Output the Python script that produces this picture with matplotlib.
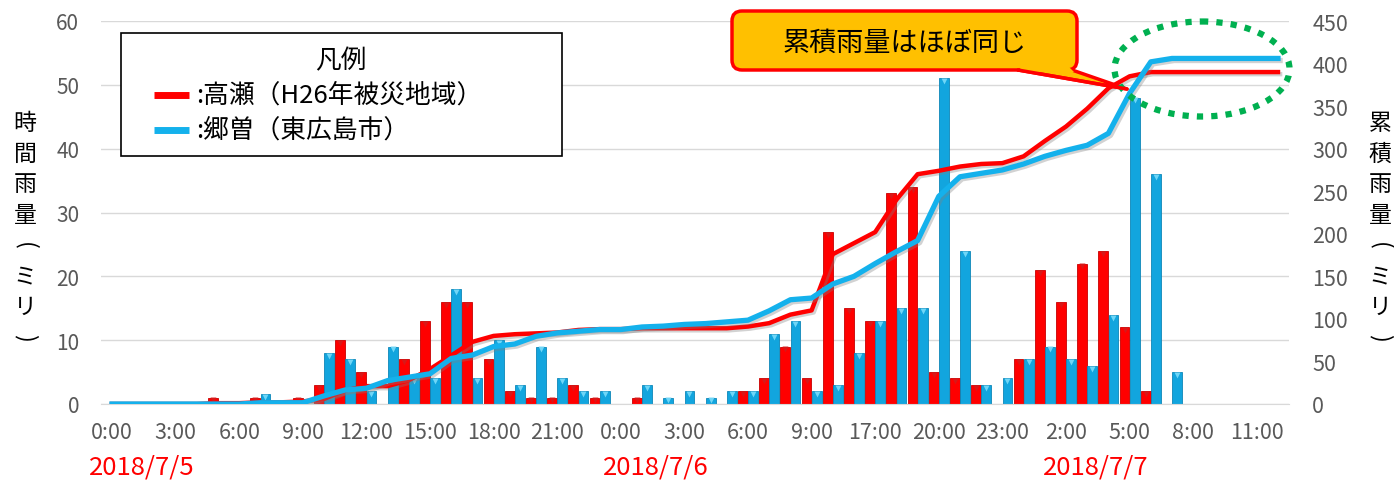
import matplotlib
matplotlib.use("Agg")
import matplotlib.pyplot as plt
import matplotlib.patheffects as pe
import matplotlib.transforms as mtransforms
from matplotlib.patches import FancyBboxPatch, Ellipse, Polygon, Rectangle
import numpy as np

plt.rcParams['font.family'] = ['Noto Sans CJK JP', 'DejaVu Sans']

# 目盛ラベル(3時間ごと)と日付
tick_labels = ["0:00", "3:00", "6:00", "9:00", "12:00", "15:00", "18:00", "21:00",
               "0:00", "3:00", "6:00", "9:00", "17:00", "20:00", "23:00",
               "2:00", "5:00", "8:00", "11:00"]
date_labels = ["2018/7/5", "2018/7/6", "2018/7/7"]

series_names = [":高瀬（H26年被災地域）", ":郷曽（東広島市）"]

# 時間雨量(ミリ) 高瀬
takase_hourly = [0, 0, 0, 0, 0, 1, 0, 1, 0, 1, 3, 10, 5, 0, 7, 13, 16, 16, 7, 2, 1, 1, 3, 1,
                 0, 1, 0, 0, 0, 0, 2, 4, 9, 4, 27, 15, 13, 33, 34, 5, 4, 3,
                 0, 7, 21, 16, 22, 24, 12, 2, 0, 0, 0, 0, 0, 0]
# 時間雨量(ミリ) 郷曽
goso_hourly = [0, 0, 0, 0, 0, 0, 0, 1.5, 0, 0, 8, 7, 2, 9, 4, 4, 18, 4, 10, 3, 9, 4, 2, 2,
               0, 3, 1, 2, 1, 2, 2, 11, 13, 2, 3, 8, 13, 15, 15, 51, 24, 3,
               4, 7, 9, 7, 6, 14, 48, 36, 5, 0, 0, 0, 0, 0]

# 累積雨量(ミリ)
takase_total = [0, 0, 0, 0, 0, 1, 1, 2, 2, 3, 6, 16, 21, 21, 28, 41, 57, 73, 80, 82, 83, 84, 87, 88,
                88, 89, 89, 89, 89, 89, 91, 95, 105, 110, 176, 189, 202, 240, 270, 274, 279, 282,
                283, 291, 309, 326, 347, 371, 385, 390, 390, 390, 390, 390, 390, 390]
goso_total = [0, 0, 0, 0, 0, 0, 0, 1.5, 1.5, 1.5, 9.5, 16.5, 18.5, 27.5, 31.5, 35.5, 53.5, 57.5,
              67.5, 70.5, 79.5, 83.5, 85.5, 87.5,
              87.5, 90.5, 91.5, 93.5, 94.5, 96.5, 98.5, 109.5, 122.5, 124.5, 141, 150, 165, 179,
              192, 244, 267, 271,
              275, 282, 291, 298, 304, 318, 365, 402, 406, 406, 406, 406, 406, 406]

RED = '#FF0000'
BLUE_BAR = '#12A5DE'
BLUE_LINE = '#14B1EC'
GRAY = '#595959'

W, H = 1394, 481
fig = plt.figure(figsize=(W / 100, H / 100), dpi=100)
ax = fig.add_axes([101.4 / W, 1 - 405 / H, (1288.6 - 101.4) / W, (405 - 22) / H])

n = len(takase_hourly)
x = np.arange(n)
t_h = np.array(takase_hourly, dtype=float)
g_h = np.array(goso_hourly, dtype=float)

ax.bar(x - 0.24, t_h, width=0.46, color=RED, edgecolor='#C80000', linewidth=0.6, zorder=2)
ax.bar(x + 0.24, g_h, width=0.46, color=BLUE_BAR, edgecolor='#0E86B8', linewidth=0.6, zorder=2)
# 棒の上の小さな三角
m = t_h > 0
ax.scatter(x[m] - 0.24, t_h[m] - 0.45, marker='v', s=18, color='#D81818', linewidths=0, zorder=3)
m = g_h > 0
ax.scatter(x[m] + 0.24, g_h[m] - 0.45, marker='v', s=18, color='#6FD6F7', linewidths=0, zorder=3)

ax.set_xlim(-0.5, n - 0.5)
ax.set_ylim(0, 60)
ax.set_yticks(np.arange(0, 61, 10))
ax.set_xticks(np.arange(0, n, 3))
ax.set_xticklabels(tick_labels)
ax.set_axisbelow(True)
ax.yaxis.grid(True, color='#D9D9D9', linewidth=1.0)
for s in ['top', 'left', 'right']:
    ax.spines[s].set_visible(False)
ax.spines['bottom'].set_color('#D9D9D9')
ax.tick_params(axis='y', length=0, pad=16, labelsize=15, labelcolor=GRAY)
ax.tick_params(axis='x', length=0, pad=12, labelsize=15.5, labelcolor=GRAY)

ax2 = ax.twinx()
ax2.set_ylim(0, 450)
ax2.set_yticks(np.arange(0, 451, 50))
for s in ax2.spines.values():
    s.set_visible(False)
ax2.tick_params(axis='y', length=0, pad=17, labelsize=15.5, labelcolor=GRAY)

shadow = [pe.SimpleLineShadow(offset=(1.5, -1.5), shadow_color='gray', alpha=0.35), pe.Normal()]
ax2.plot(x, takase_total, color=RED, linewidth=3.2, solid_joinstyle='round', path_effects=shadow)
ax2.plot(x, goso_total, color=BLUE_LINE, linewidth=3.8, solid_joinstyle='round', path_effects=shadow)

# 日付
trans = mtransforms.blended_transform_factory(ax.transData, fig.transFigure)
for xpos, lab in zip([1.42, 25.66, 46.4], date_labels):
    ax.text(xpos, 1 - 468 / H, lab, transform=trans, ha='center', va='center',
            fontsize=18.5, color=RED)

# 重ね書き用(ピクセル座標)
ov = fig.add_axes([0, 0, 1, 1], zorder=10)
ov.set_xlim(0, W)
ov.set_ylim(H, 0)
ov.axis('off')

# 縦書きの軸ラベル(括弧は横倒し)
paren = {'（': '(', '）': ')'}
for xc, label in [(25, "時間雨量（ミリ）"), (1380, "累積雨量（ミリ）")]:
    for k, ch in enumerate(label):
        if ch in paren:
            ov.text(xc, 124 + 30.5 * k, paren[ch], ha='center', va='center', rotation=-90,
                    fontsize=17, color='black')
        else:
            ov.text(xc, 124 + 30.5 * k, ch, ha='center', va='center',
                    fontsize=16.5, color='black')

# 凡例
ov.add_patch(Rectangle((121, 34), 441, 123, facecolor='white', edgecolor='black', linewidth=1.2))
ov.text(341, 61, "凡例", ha='center', va='center', fontsize=18.5)
for yy, col, name in [(96, RED, series_names[0]), (131, BLUE_LINE, series_names[1])]:
    ov.plot([154, 189], [yy, yy], color=col, linewidth=5, solid_capstyle='butt')
    ov.text(196, yy, name, ha='left', va='center', fontsize=18.5)

# 吹き出し
ov.add_patch(Polygon([(1018, 71), (1127, 90), (1072, 71)], closed=True,
                     facecolor='#FFC000', edgecolor=RED, linewidth=2.5, joinstyle='round'))
ov.add_patch(FancyBboxPatch((732, 12), 345, 59, boxstyle="round,pad=0,rounding_size=10",
                            facecolor='#FFC000', edgecolor=RED, linewidth=2.5))
ov.add_patch(Polygon([(1020, 69), (1070, 69), (1074, 73), (1022, 73)], closed=True,
                     facecolor='#FFC000', edgecolor='none'))
ov.plot([1018, 1127], [71, 90], color=RED, linewidth=2.5, solid_capstyle='round')
ov.text(905, 43, "累積雨量はほぼ同じ", ha='center', va='center', fontsize=19.5)

# 緑の点線の楕円
ov.add_patch(Ellipse((1202, 70), 175, 95, fill=False, edgecolor='#00B050',
                     linewidth=4.5, linestyle=(0, (1, 1.3))))

fig.savefig("out.png", dpi=100)
